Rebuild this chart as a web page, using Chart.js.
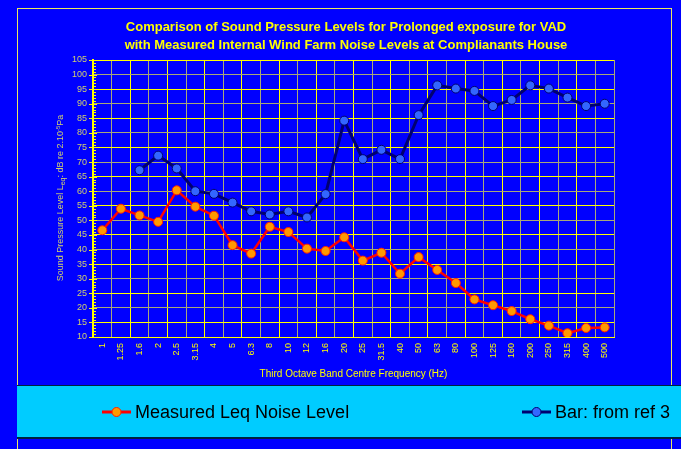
<!DOCTYPE html>
<html>
<head>
<meta charset="utf-8">
<script src="https://cdn.jsdelivr.net/npm/chart.js@4.4.1/dist/chart.umd.min.js"></script>
<style>
  html, body { margin: 0; padding: 0; background: #0000ff; overflow: hidden; }
  canvas { display: block; }
</style>
</head>
<body>
<canvas id="splChart" width="681" height="449"></canvas>
<script>
// Third octave band centres (Hz) and the two level series (dB)
const freqLabels = ['1', '1.25', '1.6', '2', '2.5', '3.15', '4', '5', '6.3', '8', '10', '12', '16', '20',
    '25', '31.5', '40', '50', '63', '80', '100', '125', '160', '200', '250', '315', '400', '500'];
const measuredLeq = [46.6, 54.0, 51.7, 49.5, 60.3, 54.7, 51.6, 41.5, 38.6, 47.8, 46.0, 40.3, 39.5, 44.2,
    36.2, 38.9, 31.7, 37.4, 33.0, 28.5, 22.9, 20.9, 18.9, 16.1, 13.9, 11.3, 13.1, 13.3];
const barRef3 = [null, null, 67.2, 72.2, 67.8, 60.0, 59.1, 56.1, 53.1, 52.0, 53.1, 51.0, 59.0, 84.2,
    71.0, 74.2, 71.0, 86.1, 96.3, 95.2, 94.4, 89.2, 91.3, 96.3, 95.2, 92.1, 89.2, 90.0];
const yMin = 10;
const yMax = 105;
const yStep = 5;

const titleLines = [
    'Comparison of Sound Pressure Levels for Prolonged exposure for VAD',
    'with Measured Internal Wind Farm Noise Levels at Complianants House'
];

const YELLOW = '#ffff00';
const GREYLINE = '#a8a878';
const TICKTEXT = '#d0d070';

// frame, title, y axis title, minor ticks and legend band
const decorPlugin = {
    id: 'decor',
    beforeDraw(chart) {
        const ctx = chart.ctx;
        ctx.save();
        ctx.fillStyle = '#0000ff';
        ctx.fillRect(0, 0, chart.width, chart.height);
        ctx.strokeStyle = '#e8e860';
        ctx.lineWidth = 1;
        ctx.strokeRect(17.5, 8.5, 654, 460);
        ctx.restore();
    },
    afterDraw(chart) {
        const ctx = chart.ctx;
        const area = chart.chartArea;
        const yScale = chart.scales.y;
        ctx.save();

        // title
        ctx.fillStyle = YELLOW;
        ctx.font = 'bold 13px "Liberation Sans", Arial, sans-serif';
        ctx.textAlign = 'center';
        ctx.textBaseline = 'middle';
        ctx.fillText(titleLines[0], 346, 27);
        ctx.fillText(titleLines[1], 346, 45);

        // minor ticks every 1 dB
        ctx.strokeStyle = YELLOW;
        ctx.lineWidth = 1;
        for (let v = yMin; v <= yMax; v++) {
            const y = Math.round(yScale.getPixelForValue(v)) + 0.5;
            ctx.beginPath();
            if (v % 5 === 0) {
                ctx.moveTo(area.left - 4, y);
                ctx.lineTo(area.left + 4, y);
            } else {
                ctx.moveTo(area.left, y);
                ctx.lineTo(area.left + 3, y);
            }
            ctx.stroke();
        }

        // y axis title with subscript / superscript
        const parts = [
            { t: 'Sound Pressure Level L', s: 9, dy: 0 },
            { t: 'eq', s: 7, dy: 2 },
            { t: ': dB re 2.10', s: 9, dy: 0 },
            { t: '-5', s: 6, dy: -3 },
            { t: 'Pa', s: 9, dy: 0 }
        ];
        let total = 0;
        parts.forEach(p => {
            ctx.font = p.s + 'px "Liberation Sans", Arial, sans-serif';
            p.w = ctx.measureText(p.t).width;
            total += p.w;
        });
        ctx.translate(61, 198);
        ctx.rotate(-Math.PI / 2);
        ctx.fillStyle = TICKTEXT;
        ctx.textAlign = 'left';
        ctx.textBaseline = 'middle';
        let x = -total / 2;
        parts.forEach(p => {
            ctx.font = p.s + 'px "Liberation Sans", Arial, sans-serif';
            ctx.fillText(p.t, x, p.dy);
            x += p.w;
        });
        ctx.setTransform(1, 0, 0, 1, 0, 0);

        // legend band
        ctx.fillStyle = '#00ccff';
        ctx.fillRect(17, 385, 664, 53);
        ctx.fillStyle = '#002040';
        ctx.fillRect(17, 385, 664, 1);
        ctx.fillRect(17, 437, 664, 2);

        const items = [
            { ds: chart.data.datasets[0], x: 102 },
            { ds: chart.data.datasets[1], x: 522 }
        ];
        items.forEach(it => {
            const ds = it.ds;
            ctx.strokeStyle = ds.borderColor;
            ctx.lineWidth = 3;
            ctx.beginPath();
            ctx.moveTo(it.x, 412);
            ctx.lineTo(it.x + 29, 412);
            ctx.stroke();
            ctx.beginPath();
            ctx.arc(it.x + 14.5, 412, 4.5, 0, Math.PI * 2);
            ctx.fillStyle = ds.pointBackgroundColor;
            ctx.fill();
            ctx.lineWidth = 1;
            ctx.strokeStyle = ds.pointBorderColor;
            ctx.stroke();
            ctx.fillStyle = '#000000';
            ctx.font = '18px "Liberation Sans", Arial, sans-serif';
            ctx.textAlign = 'left';
            ctx.textBaseline = 'middle';
            ctx.fillText(ds.label, it.x + 33, 413);
        });
        ctx.restore();
    }
};

const ctx = document.getElementById('splChart');
new Chart(ctx, {
    type: 'line',
    data: {
        labels: freqLabels,
        datasets: [
            {
                label: 'Measured Leq Noise Level',
                data: measuredLeq,
                borderColor: '#ff0000',
                borderWidth: 2.5,
                pointBackgroundColor: '#ff9900',
                pointBorderColor: '#ff2000',
                pointBorderWidth: 1,
                pointRadius: 4.5,
                tension: 0
            },
            {
                label: 'Bar: from ref 3',
                data: barRef3,
                borderColor: '#000070',
                borderWidth: 3,
                pointBackgroundColor: '#3366ff',
                pointBorderColor: '#000070',
                pointBorderWidth: 1,
                pointRadius: 4.5,
                tension: 0
            }
        ]
    },
    options: {
        responsive: false,
        animation: false,
        layout: { padding: { left: 53, right: 67, top: 60, bottom: 64 } },
        plugins: {
            legend: { display: false },
            title: { display: false },
            tooltip: { enabled: false }
        },
        scales: {
            x: {
                offset: true,
                grid: {
                    offset: true,
                    color: c => (c.index % 2 === 0 ? YELLOW : GREYLINE),
                    lineWidth: 1,
                    drawTicks: false
                },
                border: { color: YELLOW, width: 1 },
                ticks: {
                    color: YELLOW,
                    font: { size: 9, family: '"Liberation Sans", Arial, sans-serif' },
                    minRotation: 90,
                    maxRotation: 90,
                    autoSkip: false,
                    padding: 6
                },
                title: {
                    display: true,
                    text: 'Third Octave Band Centre Frequency (Hz)',
                    color: YELLOW,
                    font: { size: 10, family: '"Liberation Sans", Arial, sans-serif' },
                    padding: { top: 2, bottom: 5 }
                },
                afterFit(scale) { scale.height = 48; }
            },
            y: {
                min: yMin,
                max: yMax,
                grid: {
                    color: c => (c.tick && c.tick.value % 10 === 0 ? GREYLINE : YELLOW),
                    lineWidth: 1,
                    drawTicks: false
                },
                border: { color: YELLOW, width: 2 },
                ticks: {
                    stepSize: yStep,
                    color: TICKTEXT,
                    font: { size: 9, family: '"Liberation Sans", Arial, sans-serif' },
                    padding: 6
                },
                afterFit(scale) { scale.width = 40; }
            }
        }
    },
    plugins: [decorPlugin]
});
</script>
</body>
</html>
